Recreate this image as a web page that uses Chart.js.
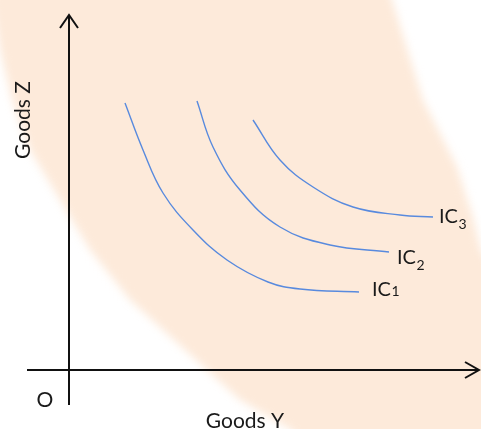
<!DOCTYPE html>
<html>
<head>
    <meta charset="UTF-8">
    <title>Indifference curves</title>
    <script src="https://cdn.jsdelivr.net/npm/chart.js"></script>
    <style>
        body { margin: 0; background: #ffffff; }
        #chart { display: block; }
    </style>
</head>
<body>
<canvas id="chart" width="481" height="429"></canvas>
<script>
    // curves, in units of goods (origin at 0,0)
    var ic1_x = [5.6, 7.4, 9.4, 12.4, 15.8, 19.9, 23.1, 29.0];
    var ic1_y = [26.7, 22.0, 17.7, 14.0, 11.0, 8.8, 8.1, 7.8];

    var ic2_x = [12.8, 14.4, 17.1, 21.1, 26.1, 32.0];
    var ic2_y = [26.9, 22.3, 18.0, 14.3, 12.5, 11.8];

    var ic3_x = [18.4, 21.1, 24.4, 28.4, 33.1, 36.4];
    var ic3_y = [25.0, 21.0, 18.3, 16.3, 15.5, 15.3];

    var curve_names = ["IC", "IC", "IC"];
    var curve_subs = ["1", "2", "3"];
    var axis_names = ["Goods Y", "Goods Z", "O"];

    // the peach band behind the chart (watermark)
    var band_left_x = [-7.9, -6.9, -5.7, -3.9, -0.9, 2.1, 6.1, 11.6, 17.1, 22.1, 23.1];
    var band_left_y = [38.0, 32.0, 27.0, 22.0, 17.0, 12.0, 7.0, 2.0, -3.0, -5.9, -7.0];
    var band_right_x = [44.0, 44.0, 42.5, 41.2, 40.4, 38.8, 35.4, 32.3, 32.0];
    var band_right_y = [-7.0, 7.0, 10.0, 12.0, 15.3, 20.3, 27.0, 37.0, 38.0];

    function to_points(xs, ys){
        var out = [];
        for (var i = 0; i < xs.length; i++){
            out.push({x: xs[i], y: ys[i]});
        }
        return out;
    }

    function curve(xs, ys){
        return {
            data: to_points(xs, ys),
            showLine: true,
            borderColor: 'rgb(88, 138, 222)',
            borderWidth: 1.4,
            pointRadius: 0,
            fill: false,
            tension: 0.4
        };
    }

    var font_name = 'Lato, "Open Sans", sans-serif';

    var drawing_plugin = {
        id: 'drawing',
        beforeDatasetsDraw: function(chart){
            var ctx = chart.ctx;
            var sx = chart.scales.x, sy = chart.scales.y;
            ctx.save();
            ctx.fillStyle = '#ffffff';
            ctx.fillRect(0, 0, chart.width, chart.height);
            ctx.filter = 'blur(4px)';
            ctx.fillStyle = 'rgb(253, 234, 218)';
            ctx.beginPath();
            for (var i = 0; i < band_left_x.length; i++){
                var px = sx.getPixelForValue(band_left_x[i]);
                var py = sy.getPixelForValue(band_left_y[i]);
                if (i == 0) ctx.moveTo(px, py); else ctx.lineTo(px, py);
            }
            for (var j = 0; j < band_right_x.length; j++){
                ctx.lineTo(sx.getPixelForValue(band_right_x[j]), sy.getPixelForValue(band_right_y[j]));
            }
            ctx.closePath();
            ctx.fill();
            ctx.restore();
        },
        afterDatasetsDraw: function(chart){
            var ctx = chart.ctx;
            var sx = chart.scales.x, sy = chart.scales.y;
            var X = function(v){ return sx.getPixelForValue(v); };
            var Y = function(v){ return sy.getPixelForValue(v); };

            ctx.save();
            ctx.strokeStyle = '#111111';
            ctx.lineWidth = 2;
            ctx.lineCap = 'butt';

            // axes
            ctx.beginPath();
            ctx.moveTo(X(-4.2), Y(0));
            ctx.lineTo(X(41.0), Y(0));
            ctx.moveTo(X(0), Y(-3.5));
            ctx.lineTo(X(0), Y(35.5));
            ctx.stroke();

            // arrow heads
            ctx.lineJoin = 'miter';
            ctx.beginPath();
            ctx.moveTo(X(39.6), Y(0.8));
            ctx.lineTo(X(41.0), Y(0));
            ctx.lineTo(X(39.6), Y(-0.8));
            ctx.moveTo(X(-0.9), Y(34.2));
            ctx.lineTo(X(0), Y(35.5));
            ctx.lineTo(X(0.9), Y(34.2));
            ctx.stroke();

            ctx.fillStyle = '#1a1a1a';
            ctx.textBaseline = 'alphabetic';

            // axis titles
            ctx.font = '21px ' + font_name;
            ctx.textAlign = 'center';
            ctx.fillText(axis_names[0], X(17.6), Y(-5.8));
            ctx.fillText(axis_names[2], X(-2.4), Y(-3.7));

            ctx.save();
            ctx.translate(X(-3.9), Y(25.0));
            ctx.rotate(-Math.PI / 2);
            ctx.fillText(axis_names[1], 0, 0);
            ctx.restore();

            // curve labels
            var label_x = [30.3, 32.8, 37.0];
            var label_y = [7.4, 10.6, 14.7];
            var sub_drop = [0, 6, 6];
            ctx.textAlign = 'left';
            for (var k = 0; k < 3; k++){
                ctx.font = '20px ' + font_name;
                var lx = X(label_x[k]), ly = Y(label_y[k]);
                ctx.fillText(curve_names[k], lx, ly);
                var w = ctx.measureText(curve_names[k]).width;
                ctx.font = '14px ' + font_name;
                ctx.fillText(curve_subs[k], lx + w + 0.5, ly + sub_drop[k]);
            }
            ctx.restore();
        }
    };

    new Chart(document.getElementById('chart'), {
        type: 'scatter',
        data: {
            datasets: [
                curve(ic1_x, ic1_y),
                curve(ic2_x, ic2_y),
                curve(ic3_x, ic3_y)
            ]
        },
        options: {
            responsive: false,
            animation: false,
            devicePixelRatio: 1,
            layout: { padding: 0 },
            plugins: {
                legend: { display: false },
                tooltip: { enabled: false }
            },
            scales: {
                x: { type: 'linear', min: -6.9, max: 41.2, display: false },
                y: { type: 'linear', min: -5.9, max: 37.0, display: false }
            }
        },
        plugins: [drawing_plugin]
    });
</script>
</body>
</html>
